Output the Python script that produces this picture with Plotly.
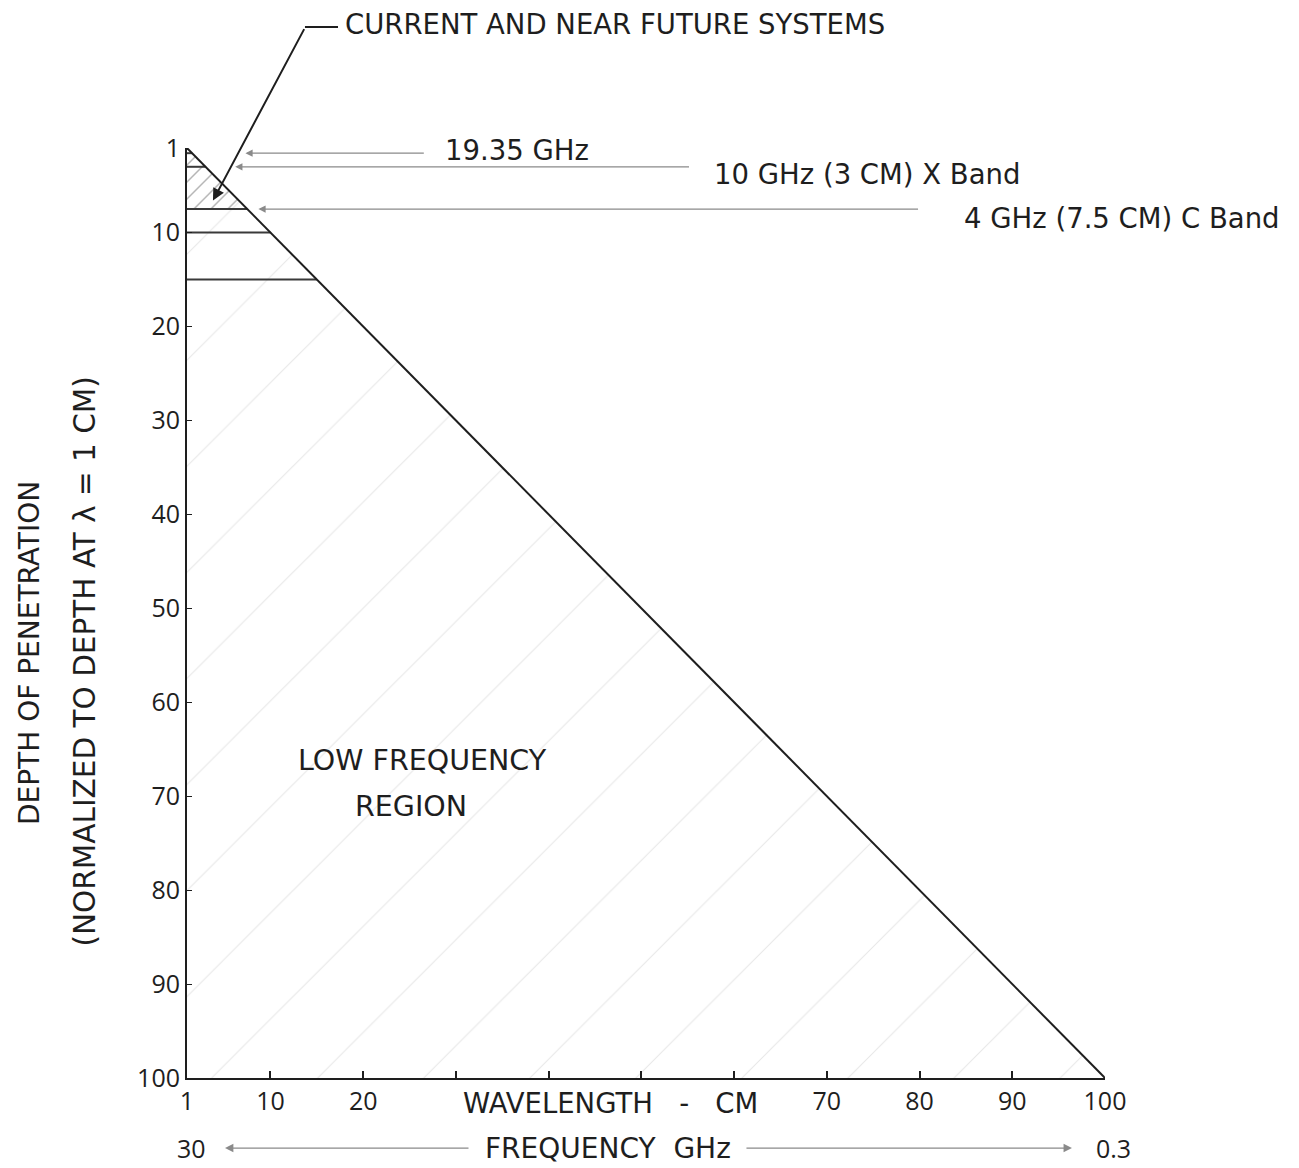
import plotly.graph_objects as go

# ---- data ----
wavelength_cm = [1, 100]          # diagonal: depth proportional to wavelength
depth_norm = [1, 100]
x_tick_vals = [1, 10, 20, 30, 40, 50, 60, 70, 80, 90, 100]
x_tick_text = ["1", "10", "20", "", "", "", "", "70", "80", "90", "100"]
y_tick_vals = [1, 10, 20, 30, 40, 50, 60, 70, 80, 90, 100]
y_tick_text = ["1", "10", "20", "30", "40", "50", "60", "70", "80", "90", "100"]
band_depths = [1.55, 3, 7.5, 10, 15]          # horizontal lines inside the triangle
system_depths = [1.55, 3, 7.5]
system_labels = ["19.35 GHz", "10 GHz (3 CM) X Band", "4 GHz (7.5 CM) C Band"]
current_region_depth = [1, 7.5]
freq_ends = ["30", "0.3"]

INK = "#1e1e1e"
GRAY = "#8a8a8a"
TFONT = "DejaVu Sans"
NFONT = "Open Sans"
SP = "\u00a0"

fig = go.Figure()

# large low-frequency region (sparse faint hatch)
fig.add_trace(go.Scatter(
    x=[wavelength_cm[0], wavelength_cm[1], wavelength_cm[0], wavelength_cm[0]],
    y=[depth_norm[0], depth_norm[1], depth_norm[1], depth_norm[0]],
    mode="lines", line=dict(width=0), fill="toself", fillcolor="rgba(0,0,0,0)",
    fillpattern=dict(shape="/", size=75, solidity=0.015, fgcolor="#cfcfcf", bgcolor="rgba(0,0,0,0)"),
    hoverinfo="skip", showlegend=False))

# current systems region (dense hatch)
d0, d1 = current_region_depth
fig.add_trace(go.Scatter(
    x=[d0, d1, d0, d0], y=[d0, d1, d1, d0],
    mode="lines", line=dict(width=0), fill="toself", fillcolor="rgba(0,0,0,0)",
    fillpattern=dict(shape="/", size=12, solidity=0.12, fgcolor="#6a6a6a", bgcolor="rgba(0,0,0,0)"),
    hoverinfo="skip", showlegend=False))

# horizontal band lines from axis to diagonal
for d in band_depths:
    fig.add_trace(go.Scatter(x=[wavelength_cm[0], d], y=[d, d], mode="lines",
                             line=dict(color="#3a3a3a", width=2), hoverinfo="skip", showlegend=False))

# diagonal
fig.add_trace(go.Scatter(x=wavelength_cm, y=depth_norm, mode="lines",
                         line=dict(color=INK, width=2), hoverinfo="skip", showlegend=False))

ann = []
# system labels with pointer arrows
label_x = [28.6, 57.6, 84.6]
label_y = [1.2, 3.8, 8.4]
tail_x = [26.7, 55.3, 80.0]
tip_x = [7.3, 6.2, 8.7]
for lab, d, lx, ly, tx, hx in zip(system_labels, system_depths, label_x, label_y, tail_x, tip_x):
    ann.append(dict(x=hx, y=d, ax=tx, ay=d, xref="x", yref="y", axref="x", ayref="y",
                    text="", showarrow=True, arrowhead=2, arrowsize=1.2, arrowwidth=1.2,
                    arrowcolor=GRAY))
    ann.append(dict(x=lx, y=ly, xref="x", yref="y", text=lab, showarrow=False,
                    xanchor="left", yanchor="middle", font=dict(family=TFONT, size=27.5, color=INK)))

# callout
ann.append(dict(x=3.8, y=6.6, ax=92, ay=-173, xref="x", yref="y",
                text="", showarrow=True, arrowhead=2, arrowsize=1.2, arrowwidth=2, arrowcolor=INK))
ann.append(dict(x=0.170, y=1.133, xref="paper", yref="paper", text="CURRENT AND NEAR FUTURE SYSTEMS",
                showarrow=False, xanchor="left", yanchor="middle",
                font=dict(family=TFONT, size=27.5, color=INK)))

# low-frequency region text
ann.append(dict(x=26.4, y=66.2, xref="x", yref="y", text="LOW FREQUENCY",
                showarrow=False, xanchor="center", yanchor="middle",
                font=dict(family=TFONT, size=28.5, color=INK)))
ann.append(dict(x=25.2, y=71.1, xref="x", yref="y", text="REGION",
                showarrow=False, xanchor="center", yanchor="middle",
                font=dict(family=TFONT, size=28.5, color=INK)))

# axis titles / frequency scale
ann.append(dict(x=0.4608, y=-0.0269, xref="paper", yref="paper",
                text="WAVELENGTH" + SP * 3 + "-" + SP * 3 + "CM",
                showarrow=False, xanchor="center", yanchor="middle",
                font=dict(family=TFONT, size=27.5, color=INK)))
ann.append(dict(x=0.4586, y=-0.0753, xref="paper", yref="paper", text="FREQUENCY" + SP * 2 + "GHz",
                showarrow=False, xanchor="center", yanchor="middle",
                font=dict(family=TFONT, size=28, color=INK)))
ann.append(dict(x=0.0054, y=-0.0753, xref="paper", yref="paper", text=freq_ends[0], showarrow=False,
                xanchor="center", yanchor="middle", font=dict(family=NFONT, size=25, color=INK)))
ann.append(dict(x=1.0098, y=-0.0753, xref="paper", yref="paper", text=freq_ends[1], showarrow=False,
                xanchor="center", yanchor="middle", font=dict(family=NFONT, size=25, color=INK)))
ann.append(dict(x=0.0414, y=-0.0753, ax=245, ay=0, xref="paper", yref="paper",
                text="", showarrow=True, arrowhead=2, arrowsize=1.4, arrowwidth=1.2, arrowcolor=GRAY))
ann.append(dict(x=0.964, y=-0.0753, ax=-327, ay=0, xref="paper", yref="paper",
                text="", showarrow=True, arrowhead=2, arrowsize=1.4, arrowwidth=1.2, arrowcolor=GRAY))
ann.append(dict(x=-0.171, y=0.457, xref="paper", yref="paper", text="DEPTH OF PENETRATION",
                textangle=-90, showarrow=False, xanchor="center", yanchor="middle",
                font=dict(family=TFONT, size=28, color=INK)))
ann.append(dict(x=-0.111, y=0.448, xref="paper", yref="paper", text="(NORMALIZED TO DEPTH AT λ = 1 CM)",
                textangle=-90, showarrow=False, xanchor="center", yanchor="middle",
                font=dict(family=TFONT, size=29.5, color=INK)))

fig.update_layout(
    width=1299, height=1168,
    margin=dict(l=179, r=202, t=140, b=98),
    paper_bgcolor="white", plot_bgcolor="white",
    showlegend=False, annotations=ann,
    shapes=[dict(type="line", xref="paper", yref="paper", x0=0.1285, x1=0.1645, y0=1.130, y1=1.130,
                 line=dict(color=INK, width=2))],
    xaxis=dict(range=[1, 100], tickvals=x_tick_vals, ticktext=x_tick_text, automargin=False,
               showgrid=False, zeroline=False, showline=True, linecolor=INK, linewidth=2,
               ticks="inside", ticklen=7, tickwidth=2, tickcolor=INK,
               tickfont=dict(family=NFONT, size=25, color=INK)),
    yaxis=dict(range=[100, 1], tickvals=y_tick_vals, ticktext=y_tick_text, automargin=False,
               showgrid=False, zeroline=False, showline=True, linecolor=INK, linewidth=2,
               ticks="inside", ticklen=5, tickwidth=1, tickcolor=INK,
               tickfont=dict(family=NFONT, size=25, color=INK)),
)

fig.write_html("out.html")
